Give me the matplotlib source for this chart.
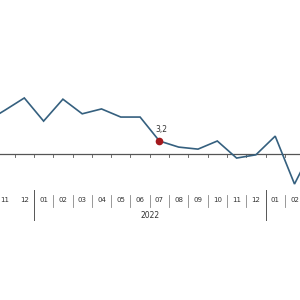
import matplotlib
matplotlib.use("Agg")
import matplotlib.pyplot as plt
import matplotlib.transforms as mtransforms

# Data (monthly values, Oct 2021 .. Mar 2023)
months = ["10", "11", "12", "01", "02", "03", "04", "05", "06", "07", "08", "09",
          "10", "11", "12", "01", "02", "03"]
years = [2021, 2021, 2021, 2022, 2022, 2022, 2022, 2022, 2022, 2022, 2022, 2022,
         2022, 2022, 2022, 2023, 2023, 2023]
values = [7.9, 10.8, 13.8, 8.1, 13.5, 9.9, 11.1, 9.1, 9.1, 3.2, 1.7, 1.2,
          3.2, -1.0, -0.2, 4.4, -7.4, 2.0]
highlight_index = 9  # July 2022
highlight_label = "3,2"
year_label = "2022"

line_color = "#35607f"
marker_color = "#a3191d"
axis_color = "#555555"
text_color = "#333333"

fig = plt.figure(figsize=(3, 3), dpi=100)
ax = fig.add_axes([0, 0, 1, 1])
ax.set_axis_off()

x = [i - 1 for i in range(len(values))]  # Nov 2021 at x=0
ax.plot(x, values, color=line_color, lw=1.2, solid_joinstyle="miter", zorder=3)
ax.axhline(0, color=axis_color, lw=0.9, zorder=2)

hx = x[highlight_index]
hy = values[highlight_index]
ax.plot([hx], [hy], "o", color=marker_color, ms=4.5, zorder=4)
ax.annotate(highlight_label, (hx, hy), xytext=(1.5, 5), textcoords="offset points",
            ha="center", va="bottom", fontsize=5.5, color=text_color)

ax.set_xlim(-0.259, 15.285)
ax.set_ylim(-35.96, 37.93)

trans = mtransforms.blended_transform_factory(ax.transData, ax.transAxes)

# small ticks on zero line at month boundaries
for i in range(len(x) - 1):
    b = x[i] + 0.5
    ax.plot([b, b], [0.487, 0.477], color=axis_color, lw=0.6, transform=trans)

# month labels
for xi, m in zip(x, months):
    ax.text(xi, 0.333, m, transform=trans, ha="center", va="center",
            fontsize=5, color=text_color)

# separators
for i in range(len(x) - 1):
    b = x[i] + 0.5
    if years[i] != years[i + 1]:
        ax.plot([b, b], [0.367, 0.267], color=axis_color, lw=0.7, transform=trans)
    elif years[i] != 2021:
        ax.plot([b, b], [0.35, 0.31], color="#888888", lw=0.6, transform=trans)

# year label
idx = [xi for xi, y in zip(x, years) if str(y) == year_label]
ax.text((idx[0] + idx[-1]) / 2, 0.28, year_label, transform=trans, ha="center",
        va="center", fontsize=5.5, color=text_color)

fig.savefig("out.png", dpi=100, facecolor="white")
